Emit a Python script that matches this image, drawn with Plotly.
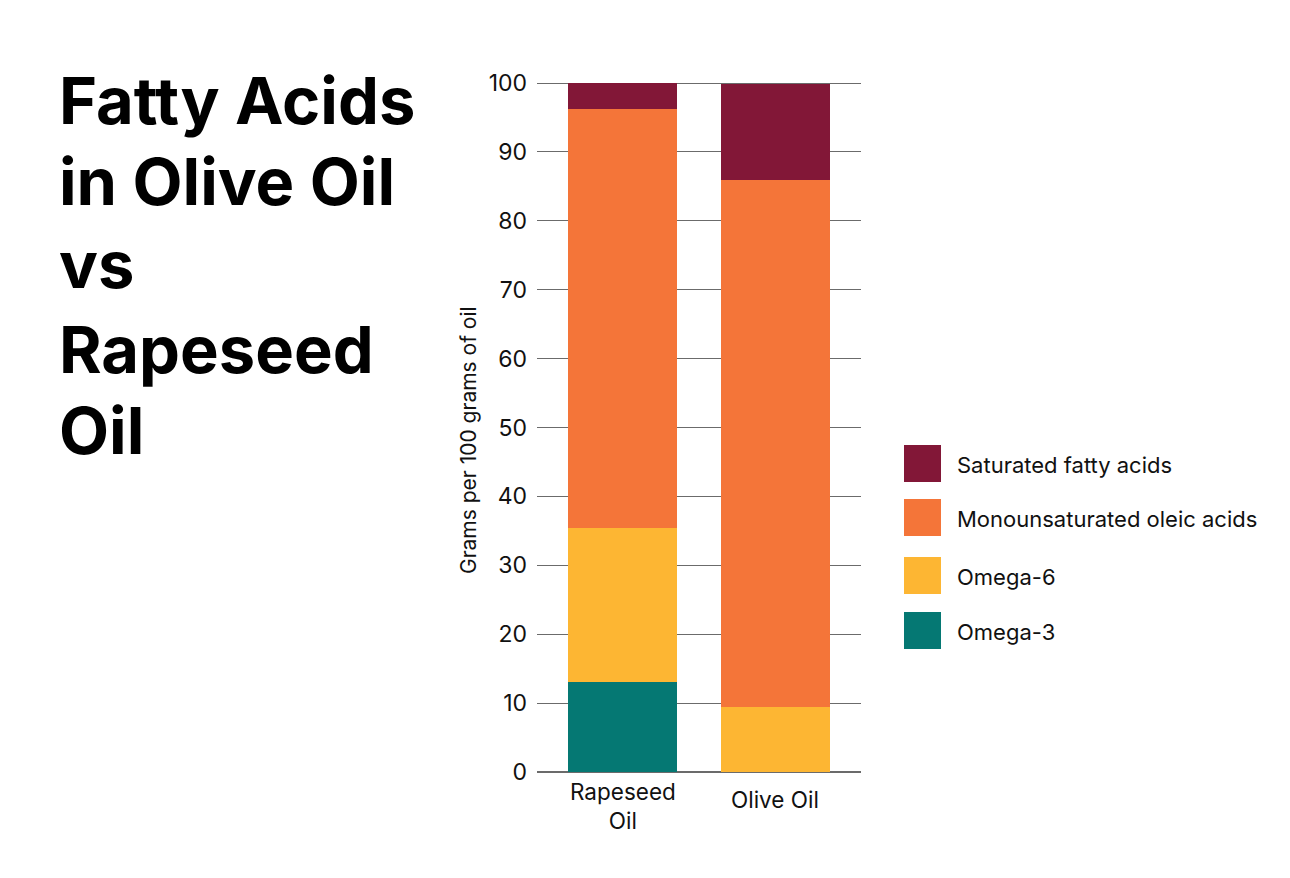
import plotly.graph_objects as go

categories = ["Rapeseed Oil", "Olive Oil"]
category_labels = ["Rapeseed<br>Oil", "Olive Oil"]
series_names = ["Omega-3", "Omega-6", "Monounsaturated oleic acids", "Saturated fatty acids"]
omega3 = [13.0, 0.0]
omega6 = [22.4, 9.5]
mono = [60.9, 76.4]
saturated = [3.7, 14.0]
colors = ["#057873", "#FDB633", "#F47539", "#821737"]
y_ticks = [0, 10, 20, 30, 40, 50, 60, 70, 80, 90, 100]
title_lines = ["Fatty Acids", "in Olive Oil", "vs", "Rapeseed", "Oil"]
y_title = "Grams per 100 grams of oil"

W, H = 1290, 878
L, R, T, B = 537, 429, 81, 106
FONT = "Inter"

def px(xp):
    return (xp - L) / (W - L - R)

def py(yp):
    return 1 - (yp - T) / (H - T - B)

fig = go.Figure()
for name, vals, col in zip(series_names, [omega3, omega6, mono, saturated], colors):
    fig.add_trace(go.Bar(x=categories, y=vals, name=name, marker=dict(color=col, line=dict(width=0)),
                         width=0.715, showlegend=False))

fig.update_layout(
    barmode="stack",
    width=W, height=H,
    margin=dict(l=L, r=R, t=T, b=B),
    paper_bgcolor="white", plot_bgcolor="white",
    font=dict(family=FONT, color="#111"),
    xaxis=dict(range=[-0.56, 1.56], showticklabels=False, showgrid=False, zeroline=False, showline=False),
    yaxis=dict(range=[0, 100.3], tickvals=y_ticks, showgrid=True, gridcolor="#6b6b6b", gridwidth=1,
               zeroline=True, zerolinecolor="#6b6b6b", zerolinewidth=1.5, ticks="",
               ticklabelstandoff=9, tickfont=dict(size=23, family=FONT, color="#111")),
)

annotations = []
# title lines
baselines = [128, 209, 292, 377, 458]
for line, bl in zip(title_lines, baselines):
    annotations.append(dict(text=line, xref="paper", yref="paper", x=px(57), y=py(bl + 14),
                            xanchor="left", yanchor="bottom", showarrow=False,
                            font=dict(size=65, family=FONT, color="#000", weight=700)))
# y axis title
annotations.append(dict(text=y_title, xref="paper", yref="paper", x=px(468), y=py(440),
                        textangle=-90, showarrow=False, xanchor="center", yanchor="middle",
                        font=dict(size=21, family=FONT, color="#111")))
# category labels
label_centers = [806, 800]
for cat, lab, yc in zip(categories, category_labels, label_centers):
    annotations.append(dict(text=lab, xref="x", yref="paper", x=cat, y=py(yc),
                            showarrow=False, xanchor="center", yanchor="middle",
                            font=dict(size=22.5, family=FONT, color="#111")))
# legend
legend_tops = [445, 499, 557, 612]
shapes = []
for name, col, top in zip(series_names[::-1], colors[::-1], legend_tops):
    shapes.append(dict(type="rect", xref="paper", yref="paper", x0=px(904), x1=px(941),
                       y0=py(top), y1=py(top + 37), fillcolor=col, line=dict(width=0)))
    annotations.append(dict(text=name, xref="paper", yref="paper", x=px(955), y=py(top + 20),
                            xanchor="left", yanchor="middle", showarrow=False,
                            font=dict(size=22, family=FONT, color="#111")))

fig.update_layout(annotations=annotations, shapes=shapes)
fig.write_html("out.html")
